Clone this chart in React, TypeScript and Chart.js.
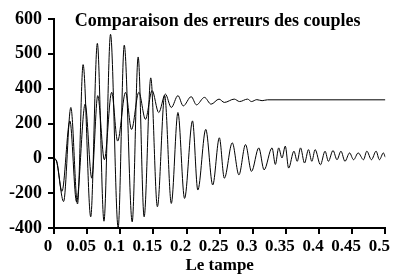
import React, { useEffect, useRef } from 'react';
import { Chart, registerables } from 'chart.js';

Chart.register(...registerables);

// Upper curve (settles near 336)
const timesA = [0, 0.004, 0.012, 0.024, 0.034, 0.047, 0.057, 0.066, 0.076, 0.087, 0.096, 0.108, 0.117, 0.128, 0.138, 0.148, 0.158, 0.168, 0.177, 0.187, 0.195, 0.207, 0.215, 0.227, 0.237, 0.249, 0.257, 0.272, 0.280, 0.292, 0.298, 0.306, 0.314, 0.322, 0.5];
const valuesA = [0, -15, -190, 214, -250, 311, -114, 360, -8, 379, 99, 379, 166, 379, 224, 389, 263, 369, 292, 360, 301, 354, 307, 350, 311, 340, 321, 340, 326, 340, 326, 337, 331, 336, 336];

// Lower curve (settles near 0)
const timesB = [0, 0.004, 0.0145, 0.0254, 0.0355, 0.0439, 0.0554, 0.0654, 0.0754, 0.0853, 0.0968, 0.106, 0.118, 0.127, 0.136, 0.146, 0.156, 0.167, 0.177, 0.187, 0.197, 0.209, 0.217, 0.229, 0.2395, 0.2495, 0.257, 0.269, 0.279, 0.289, 0.298, 0.309, 0.317, 0.329, 0.334, 0.339, 0.344, 0.349, 0.354, 0.362, 0.367, 0.372, 0.378, 0.384, 0.389, 0.394, 0.402, 0.409, 0.414, 0.421, 0.427, 0.433, 0.439, 0.446, 0.452, 0.459, 0.467, 0.472, 0.479, 0.486, 0.491, 0.497, 0.5];
const valuesB = [0, -20, -248, 292, -262, 469, -336, 530, -361, 556, -398, 525, -365, 491, -336, 431, -278, 360, -259, 263, -230, 215, -182, 166, -153, 118, -114, 89, -95, 79, -75, 60, -66, 60, -35, 60, 2, 70, -56, 41, -17, 60, -27, 50, -17, 50, -37, 41, -17, 45, -8, 41, -17, 31, -8, 31, -8, 41, -8, 41, -8, 31, 6];

// Y axis labels as printed (the axis is uneven above 400)
const yTickValues = [-400, -200, 0, 200, 400, 600, 800];
const yTickLabels = ['-400', '-200', '0', '200', '400', '500', '600'];
const xTickValues = [0, 0.05, 0.1, 0.15, 0.2, 0.25, 0.3, 0.35, 0.4, 0.45, 0.5];

const titleText = 'Comparaison des erreurs des couples';
const xTitleText = 'Le tampe';

// printed value -> axis position (100 printed units per tick above 400)
const toAxis = (v: number) => (v <= 400 ? v : 400 + (v - 400) * 2);

const FONT = '"Liberation Serif", "Times New Roman", serif';

const titlePlugin = {
  id: 'insideTitle',
  afterDraw(chart: any) {
    const { ctx, chartArea } = chart;
    ctx.save();
    ctx.font = `bold 18px ${FONT}`;
    ctx.fillStyle = '#000';
    ctx.textAlign = 'center';
    ctx.textBaseline = 'middle';
    ctx.fillText(titleText, (chartArea.left + chartArea.right) / 2 - 2, chartArea.top + 2);
    ctx.restore();
  },
};

export default function App() {
  const ref = useRef<HTMLCanvasElement | null>(null);
  useEffect(() => {
    if (!ref.current) return;
    const chart = new Chart(ref.current, {
      type: 'line',
      data: {
        datasets: [
          {
            label: 'A',
            data: timesA.map((t, i) => ({ x: t, y: toAxis(valuesA[i]) })),
            borderColor: '#000',
            borderWidth: 1,
            pointRadius: 0,
            cubicInterpolationMode: 'monotone',
            fill: false,
          },
          {
            label: 'B',
            data: timesB.map((t, i) => ({ x: t, y: toAxis(valuesB[i]) })),
            borderColor: '#000',
            borderWidth: 1,
            pointRadius: 0,
            cubicInterpolationMode: 'monotone',
            fill: false,
          },
        ],
      },
      options: {
        responsive: false,
        animation: false,
        layout: { padding: { top: 19, right: 9, left: 0, bottom: 0 } },
        plugins: { legend: { display: false }, tooltip: { enabled: false }, title: { display: false } },
        scales: {
          x: {
            type: 'linear',
            min: 0,
            max: 0.5,
            afterFit: (s: any) => { s.height = 50; },
            afterBuildTicks: (s: any) => { s.ticks = xTickValues.map((v) => ({ value: v })); },
            ticks: {
              autoSkip: false,
              maxRotation: 0,
              labelOffset: -6,
              padding: 2,
              color: '#000',
              font: { family: FONT, size: 17, weight: 'bold' },
              callback: (v: any) => String(Number(Number(v).toFixed(2))),
            },
            grid: { drawOnChartArea: false, drawTicks: true, tickLength: 6, color: '#000', lineWidth: 2 },
            border: { display: true, color: '#000', width: 2 },
            title: {
              display: true,
              text: xTitleText,
              color: '#000',
              font: { family: FONT, size: 17, weight: 'bold' },
              padding: { top: 0, bottom: 2 },
            },
          },
          y: {
            type: 'linear',
            min: -400,
            max: 800,
            afterFit: (s: any) => { s.width = 54; },
            afterBuildTicks: (s: any) => { s.ticks = yTickValues.map((v) => ({ value: v })); },
            ticks: {
              padding: 6,
              color: '#000',
              font: { family: FONT, size: 18, weight: 'bold' },
              callback: (v: any) => {
                const i = yTickValues.indexOf(Number(v));
                return i >= 0 ? yTickLabels[i] : '';
              },
            },
            grid: { drawOnChartArea: false, drawTicks: true, tickLength: 6, color: '#000', lineWidth: 2 },
            border: { display: true, color: '#000', width: 2 },
          },
        },
      },
      plugins: [titlePlugin],
    } as any);
    return () => chart.destroy();
  }, []);
  return (
    <div style={{ position: 'absolute', left: 0, top: 0, width: 398, height: 278, background: '#fff' }}>
      <canvas ref={ref} width={398} height={278} style={{ display: 'block' }} />
    </div>
  );
}
